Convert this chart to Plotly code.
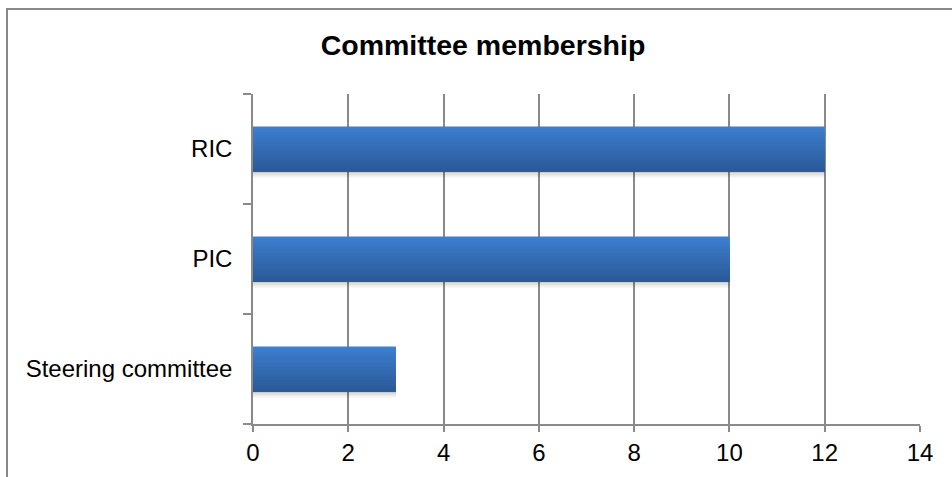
import plotly.graph_objects as go

# Committee sizes (members), listed bottom-to-top
committees = ["Steering committee", "PIC", "RIC"]
members = [3, 10, 12]
x_ticks = [0, 2, 4, 6, 8, 10, 12, 14]

W, H = 952, 477
L, R, T, B = 253, 32, 94, 53

BAR_W = 0.41
N_SLICES = 16
top_rgb = (60, 126, 207)
bot_rgb = (43, 90, 152)

fig = go.Figure()

# soft drop shadow under each bar
shadow_alpha = [0.20, 0.13, 0.08, 0.04]
band = 0.014
for i, a in enumerate(shadow_alpha):
    fig.add_trace(go.Bar(
        y=committees, x=members, orientation="h",
        width=band, offset=-BAR_W / 2 - band * (i + 1),
        marker=dict(color=f"rgba(0,0,0,{a})", line=dict(width=0)),
        hoverinfo="skip", showlegend=False,
    ))

# vertical gradient: nested bars anchored at the bar bottom, tallest (top
# colour) drawn first, each shorter and darker one painted on top of it
sl = BAR_W / N_SLICES
for k in range(N_SLICES - 1, -1, -1):
    t = k / (N_SLICES - 1)  # 0 = bottom, 1 = top
    c = tuple(round(bot_rgb[j] + (top_rgb[j] - bot_rgb[j]) * t) for j in range(3))
    fig.add_trace(go.Bar(
        y=committees, x=members, orientation="h",
        width=(k + 1) * sl, offset=-BAR_W / 2,
        marker=dict(color=f"rgb{c}", line=dict(width=0)),
        hoverinfo="skip", showlegend=False,
    ))

grid = "#8a8a8a"
fig.update_layout(
    width=W, height=H,
    margin=dict(l=L, r=R, t=T, b=B, pad=0),
    paper_bgcolor="white", plot_bgcolor="white",
    barmode="overlay",
    showlegend=False,
    font=dict(family="Liberation Sans, Arial, sans-serif", color="#000000"),
    title=dict(
        text="<b>Committee membership</b>",
        font=dict(size=28.5, color="#000000"),
        x=483 / W, xanchor="center", xref="container",
        y=1 - 45 / H, yanchor="middle", yref="container",
    ),
    xaxis=dict(
        range=[0, 14], tickvals=x_ticks, ticktext=[str(v) for v in x_ticks],
        showgrid=True, gridcolor=grid, gridwidth=1.5,
        showline=True, linecolor=grid, linewidth=1.5,
        ticks="outside", ticklen=6, tickcolor=grid, tickwidth=1.5,
        tickfont=dict(size=24), zeroline=False, fixedrange=True,
    ),
    yaxis=dict(
        type="category", categoryorder="array", categoryarray=committees,
        range=[-0.5, 2.5],
        showgrid=False, showline=True, linecolor=grid, linewidth=1.5,
        ticks="outside", tickson="boundaries", ticklen=8,
        tickcolor=grid, tickwidth=1.5, ticklabelstandoff=14,
        tickfont=dict(size=24), fixedrange=True,
    ),
    shapes=[
        # outer chart frame (runs past the right and bottom edges)
        dict(type="rect", xref="paper", yref="paper",
             x0=(7 - L) / (W - L - R), x1=1.2,
             y0=-0.5, y1=(H - B - 9) / (H - T - B),
             line=dict(color="#888888", width=2), fillcolor="rgba(0,0,0,0)",
             layer="below"),
    ],
)

fig.write_html("out.html")
